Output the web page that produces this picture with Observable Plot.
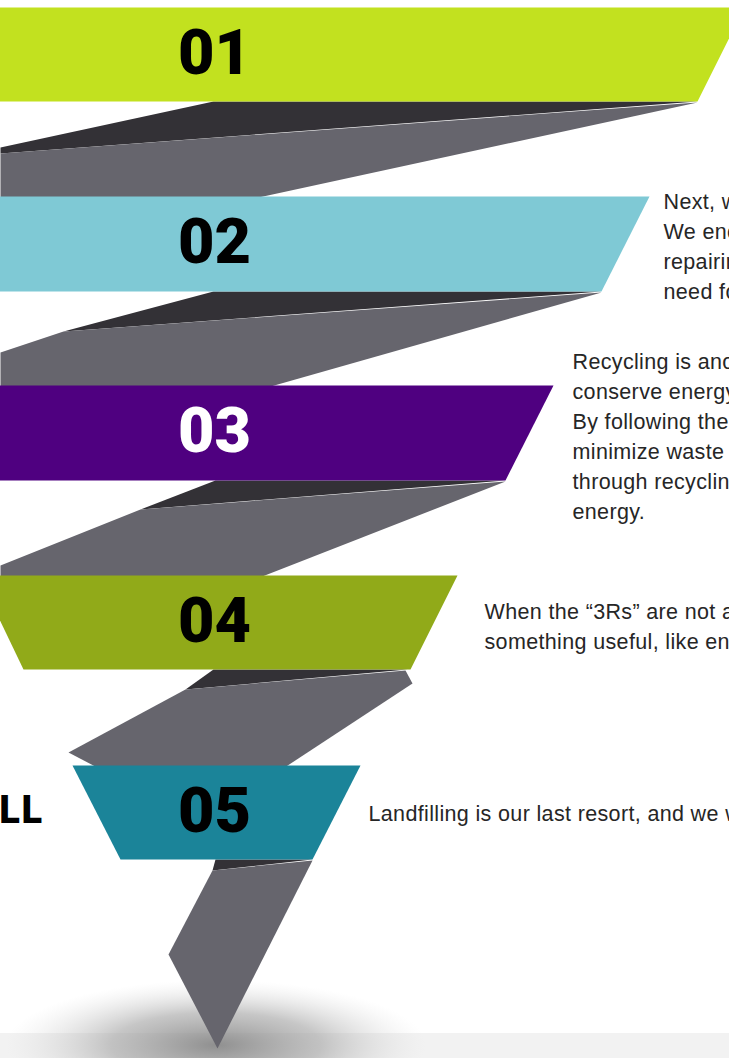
<!DOCTYPE html>
<html>
<head>
<meta charset="utf-8">
<script src="https://cdn.jsdelivr.net/npm/d3@7"></script>
<script src="https://cdn.jsdelivr.net/npm/@observablehq/plot@0.6"></script>
<style>
  html, body { margin: 0; padding: 0; background: #fff; overflow: hidden; }
  #chart svg { display: block; }
</style>
</head>
<body>
<div id="chart"></div>
<script>
// ---- Data ----
const bandLabels = ["01", "02", "03", "04", "05"];
const bandColors = ["#c2e11f", "#7fc9d5", "#4f0080", "#91aa19", "#1b8499"];
const labelColors = ["#000000", "#000000", "#ffffff", "#000000", "#000000"];
const bandTop = [7, 196, 385, 575, 765];
const bandBottom = [101, 291, 480, 669, 859];
const bandLeftTop = [-30, -30, -30, -22, 72];
const bandLeftBottom = [-30, -30, -30, 23, 120];
const bandRightTop = [744, 649, 553, 457, 360];
const bandRightBottom = [697, 601, 505, 410, 312];

// fold (ribbon back-side) polygons, [x, y] vertices
const darkFolds = [
  [[213, 101], [697, 101], [0, 153], [0, 147]],
  [[213, 291], [601, 291], [63, 331]],
  [[215, 480], [505, 480], [140, 509]],
  [[213, 669], [407, 669], [185, 689]],
  [[215, 859], [312, 859], [212, 870]]
];
const greyFolds = [
  [[697, 102], [0, 153], [0, 253]],
  [[601, 292], [63, 331], [0, 352], [0, 463]],
  [[505, 481], [140, 509], [0, 565], [0, 620], [149, 620]],
  [[185, 689], [405, 670], [412, 683], [272, 775], [112, 775], [68, 752]],
  [[312, 860], [212, 870], [168, 954], [217, 1048]]
];

const bodyTexts = [
  "Next, we look to reuse materials.\nWe encourage reusing and\nrepairing items to reduce the\nneed for new materials.",
  "Recycling is another way to\nconserve energy and resources.\nBy following the “3Rs” we can\nminimize waste and recover value\nthrough recycling and create\nenergy.",
  "When the “3Rs” are not an option, we turn waste into\nsomething useful, like energy.",
  "Landfilling is our last resort, and we work to keep it to a minimum."
];
const bodyX = [663, 572, 484, 368];
const bodyY = [244, 434, 624, 811];
const sideLabel = "LANDFILL";

// ---- Build tables ----
const bandRows = bandLabels.flatMap((id, i) => [
  {id, x: bandLeftTop[i], y: bandTop[i], fill: bandColors[i]},
  {id, x: bandRightTop[i], y: bandTop[i], fill: bandColors[i]},
  {id, x: bandRightBottom[i], y: bandBottom[i], fill: bandColors[i]},
  {id, x: bandLeftBottom[i], y: bandBottom[i], fill: bandColors[i]}
]);
const polyRows = (polys, tag) => polys.flatMap((p, i) => p.map(([x, y]) => ({id: tag + i, x, y})));
const darkRows = polyRows(darkFolds, "d");
const greyRows = polyRows(greyFolds, "g");

const labelRows = bandLabels.map((t, i) => ({
  t, x: 214, y: (bandTop[i] + bandBottom[i]) / 2 - 1, fill: labelColors[i]
}));
const bodyRows = bodyTexts.map((t, i) => ({t, x: bodyX[i], y: bodyY[i]}));

const floor = [{x1: 0, x2: 729, y1: 1033, y2: 1058}];
const shadow = [{x1: 6, x2: 426, y1: 980, y2: 1110}];

const defs = () => {
  const d = d3.create("svg:defs");
  const g = d.append("radialGradient").attr("id", "floorShadow")
    .attr("cx", 0.5).attr("cy", 0.5).attr("r", 0.5);
  g.append("stop").attr("offset", 0).attr("stop-color", "#8a8a8a").attr("stop-opacity", 0.95);
  g.append("stop").attr("offset", 0.5).attr("stop-color", "#a8a8a8").attr("stop-opacity", 0.65);
  g.append("stop").attr("offset", 1).attr("stop-color", "#dcdcdc").attr("stop-opacity", 0);
  return d.node();
};

const plot = Plot.plot({
  width: 729,
  height: 1058,
  margin: 0,
  x: {domain: [0, 729], range: [0, 729], axis: null},
  y: {domain: [0, 1058], range: [0, 1058], axis: null},
  color: {type: "identity"},
  style: {background: "#ffffff", overflow: "hidden"},
  marks: [
    defs,
    Plot.rect(floor, {x1: "x1", x2: "x2", y1: "y1", y2: "y2", fill: "#f2f2f2"}),
    Plot.rect(shadow, {x1: "x1", x2: "x2", y1: "y1", y2: "y2", fill: "url(#floorShadow)"}),
    Plot.line(darkRows, {x: "x", y: "y", z: "id", fill: "#333136", stroke: "none", curve: "linear"}),
    Plot.line(greyRows, {x: "x", y: "y", z: "id", fill: "#66656d", stroke: "none", curve: "linear"}),
    Plot.line(bandRows, {x: "x", y: "y", z: "id", fill: "fill", stroke: "none", curve: "linear"}),
    Plot.text(labelRows, {
      x: "x", y: "y", text: "t", fill: "fill",
      fontFamily: "Roboto", fontWeight: 900, fontSize: 63, textAnchor: "middle"
    }),
    Plot.text([sideLabel], {
      x: () => 43, y: () => 810, text: d => d,
      fontFamily: "Roboto", fontWeight: 900, fontSize: 38, textAnchor: "end", fill: "#000"
    }),
    Plot.text(bodyRows, {
      x: "x", y: "y", text: "t", fill: "#262626",
      fontFamily: "Liberation Sans, Arial, sans-serif", fontSize: 21.5,
      textAnchor: "start", lineAnchor: "middle", lineHeight: 30 / 21.5
    })
  ]
});
d3.select(plot).selectAll("g").each(function() {
  const fs = this.getAttribute("font-size");
  if (fs === "21.5") d3.select(this).selectAll("text").attr("letter-spacing", "0.35");
  if (fs === "38") d3.select(this).selectAll("text").attr("letter-spacing", "1.5");
});
document.getElementById("chart").appendChild(plot);
</script>
</body>
</html>
